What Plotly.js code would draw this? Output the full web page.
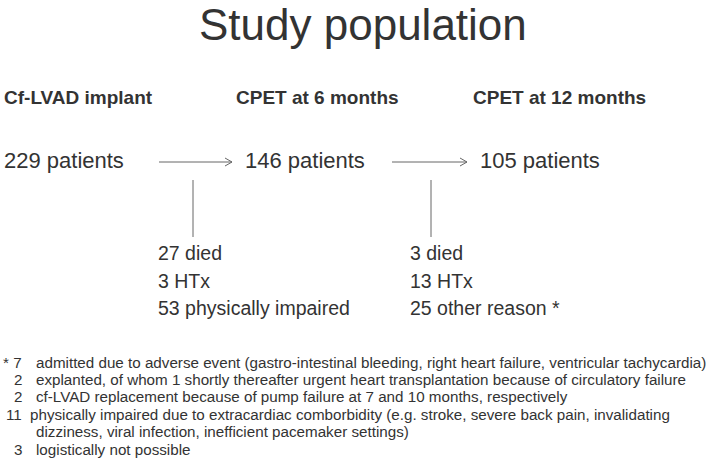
<!DOCTYPE html>
<html>
<head>
<meta charset="utf-8">
<script src="https://cdn.plot.ly/plotly-3.0.1.min.js"></script>
<style>html,body{margin:0;padding:0;background:#fff;}#chart{width:709px;height:462px;}</style>
</head>
<body>
<div id="chart"></div>
<script>
// ---- data ----
const chartTitle = 'Study population';
const stages = ['Cf-LVAD implant', 'CPET at 6 months', 'CPET at 12 months'];
const patients = [229, 146, 105];
const lostAt6Counts = [27, 3, 53];
const lostAt6Reasons = ['died', 'HTx', 'physically impaired'];
const lostAt12Counts = [3, 13, 25];
const lostAt12Reasons = ['died', 'HTx', 'other reason *'];
const footCounts = ['* 7', '2', '2', '11', '', '3'];
const footTexts = [
  'admitted due to adverse event (gastro-intestinal bleeding, right heart failure, ventricular tachycardia)',
  'explanted, of whom 1 shortly thereafter urgent heart transplantation because of circulatory failure',
  'cf-LVAD replacement because of pump failure at 7 and 10 months, respectively',
  'physically impaired due to extracardiac comborbidity (e.g. stroke, severe back pain, invalidating',
  'dizziness, viral infection, inefficient pacemaker settings)',
  'logistically not possible'
];

// ---- layout (pixel-like coordinate system) ----
const W = 709, H = 462;
const TXT = '#333333', LINE = '#666666';
const FONT = '"Liberation Sans", Arial, sans-serif';
const stageX = [2, 234, 471];
const patientX = [2, 243, 478];
const headerY = 97, patientY = 160, arrowY = 162;
const arrowSpans = [[159, 232], [392, 467]];
const branchX = [193, 431];
const branchTop = 180, branchBottom = 237;
const listX = [156, 408];
const listY0 = 253, listDY = 27.5;
const footY0 = 362, footDY = 17.4;

const ann = [];
function txt(x, y, text, size, opts) {
  ann.push(Object.assign({
    x: x, y: y, xref: 'x', yref: 'y', text: text, showarrow: false,
    xanchor: 'left', yanchor: 'middle',
    font: {family: FONT, size: size, color: TXT}
  }, opts || {}));
}

txt(W / 2 + 8, 24, chartTitle, 44, {xanchor: 'center'});
stages.forEach((s, i) => txt(stageX[i], headerY, '<b>' + s + '</b>', 19));
patients.forEach((p, i) => txt(patientX[i], patientY, p + ' patients', 22));
lostAt6Counts.forEach((c, i) => txt(listX[0], listY0 + i * listDY, c + ' ' + lostAt6Reasons[i], 19.5));
lostAt12Counts.forEach((c, i) => txt(listX[1], listY0 + i * listDY, c + ' ' + lostAt12Reasons[i], 19.5));
footCounts.forEach((c, i) => {
  if (c) txt(24, footY0 + i * footDY, c, 15.2, {xanchor: 'right'});
});
footTexts.forEach((t, i) => {
  const x = (i === 3) ? 28 : 34;
  txt(x, footY0 + i * footDY, t, 15.2);
});

const shapes = [];
arrowSpans.forEach(([a, b]) => {
  shapes.push({type: 'line', xref: 'x', yref: 'y', x0: a, x1: b, y0: arrowY, y1: arrowY, line: {color: LINE, width: 1}});
  shapes.push({type: 'path', xref: 'x', yref: 'y',
    path: `M ${b - 7} ${arrowY - 4} L ${b} ${arrowY} L ${b - 7} ${arrowY + 4}`,
    line: {color: LINE, width: 1}});
});
branchX.forEach(x => shapes.push({type: 'line', xref: 'x', yref: 'y', x0: x, x1: x, y0: branchTop, y1: branchBottom, line: {color: LINE, width: 1}}));

const layout = {
  width: W, height: H,
  margin: {l: 0, r: 0, t: 0, b: 0},
  paper_bgcolor: '#ffffff', plot_bgcolor: '#ffffff',
  xaxis: {range: [0, W], visible: false, fixedrange: true},
  yaxis: {range: [H, 0], visible: false, fixedrange: true},
  showlegend: false,
  annotations: ann,
  shapes: shapes
};
Plotly.newPlot('chart', [{x: [], y: [], type: 'scatter', mode: 'markers', hoverinfo: 'skip'}], layout, {staticPlot: true, displayModeBar: false});
</script>
</body>
</html>
